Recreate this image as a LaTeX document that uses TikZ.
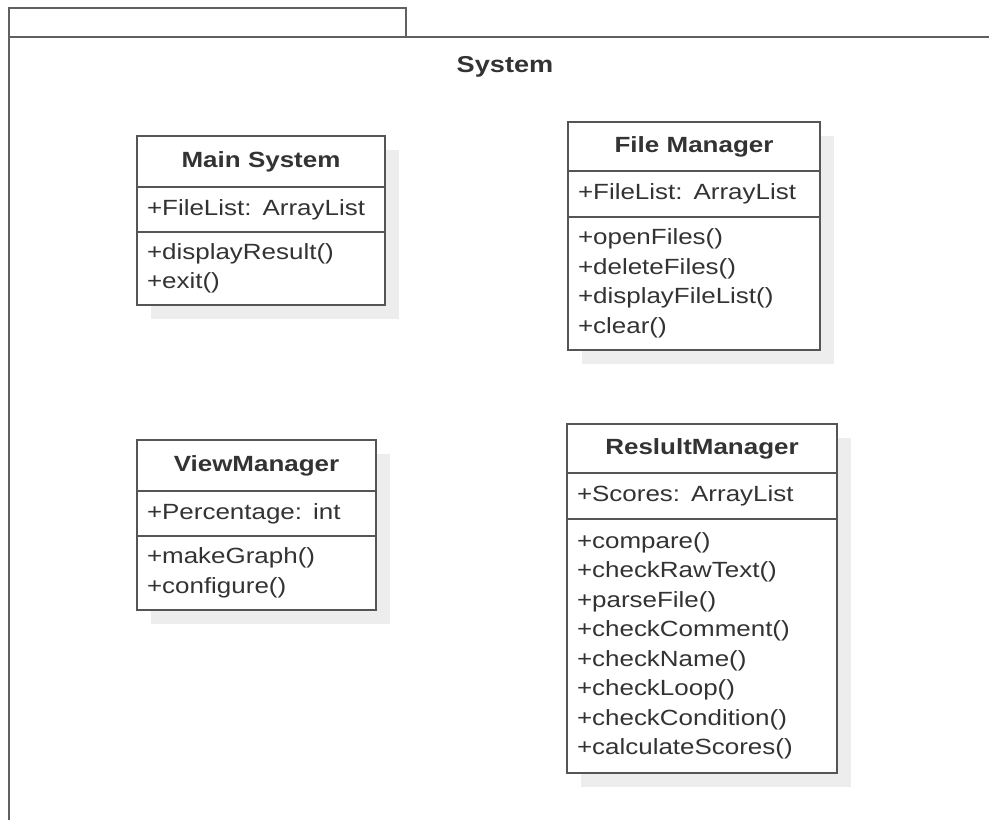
\documentclass[tikz,border=0pt]{standalone}
\usepackage{fontspec}
\setmainfont{Liberation Sans}[FakeStretch=1.18]
\usetikzlibrary{positioning,shadows}
\definecolor{umlline}{HTML}{555555}
\definecolor{umltext}{HTML}{333333}
\definecolor{framegray}{HTML}{606060}
\tikzset{
  classbox/.style={draw=umlline, line width=1.6pt, fill=white, text=umltext, outer sep=0pt,
    inner xsep=10pt, inner ysep=3pt, font=\fontsize{22}{29.5}\selectfont,
    drop shadow={shadow xshift=14pt, shadow yshift=-14pt, fill=black!7, opacity=1}},
  classname/.style={classbox, align=center, font=\fontsize{22}{29.5}\selectfont\bfseries},
  classpart/.style={classbox, align=left},
  framebox/.style={draw=framegray, line width=1.6pt}
}

\begin{document}
\begin{tikzpicture}[x=1pt, y=-1pt]
    \useasboundingbox (0,0) rectangle (989,820);
    % package frame
    \draw[framebox] (9,37) |- (406,8) -- (406,37);
    \draw[framebox] (9,820) -- (9,37) -- (989,37);
    \node[anchor=base, text=umltext, font=\fontsize{23}{26}\selectfont\bfseries] (sysname) at (505,72) {System};

    % Main System
    \node[classname, text width=228pt, minimum height=51pt, anchor=north west] (mainname) at (137,136) {Main System};
    \node[classpart, text width=228pt, minimum height=45pt, below=0pt of mainname] (mainattr) {+FileList: ArrayList};
    \node[classpart, text width=228pt, minimum height=73pt, below=0pt of mainattr] (mainops) {+displayResult()\\+exit()};

    % File Manager
    \node[classname, text width=232pt, minimum height=49pt, anchor=north west] (filename) at (568,122) {File Manager};
    \node[classpart, text width=232pt, minimum height=46pt, below=0pt of filename] (fileattr) {+FileList: ArrayList};
    \node[classpart, text width=232pt, minimum height=133pt, below=0pt of fileattr] (fileops)
      {+openFiles()\\+deleteFiles()\\+displayFileList()\\+clear()};

    % ViewManager
    \node[classname, text width=219pt, minimum height=51pt, anchor=north west] (viewname) at (137,440) {ViewManager};
    \node[classpart, text width=219pt, minimum height=45pt, below=0pt of viewname] (viewattr) {+Percentage: int};
    \node[classpart, text width=219pt, minimum height=74pt, below=0pt of viewattr] (viewops) {+makeGraph()\\+configure()};

    % ReslultManager
    \node[classname, text width=250pt, minimum height=49pt, anchor=north west] (resname) at (567,424) {ReslultManager};
    \node[classpart, text width=250pt, minimum height=46pt, below=0pt of resname] (resattr) {+Scores: ArrayList};
    \node[classpart, text width=250pt, minimum height=254pt, below=0pt of resattr] (resops)
      {+compare()\\+checkRawText()\\+parseFile()\\+checkComment()\\+checkName()\\+checkLoop()\\+checkCondition()\\+calculateScores()};
\end{tikzpicture}
\end{document}
